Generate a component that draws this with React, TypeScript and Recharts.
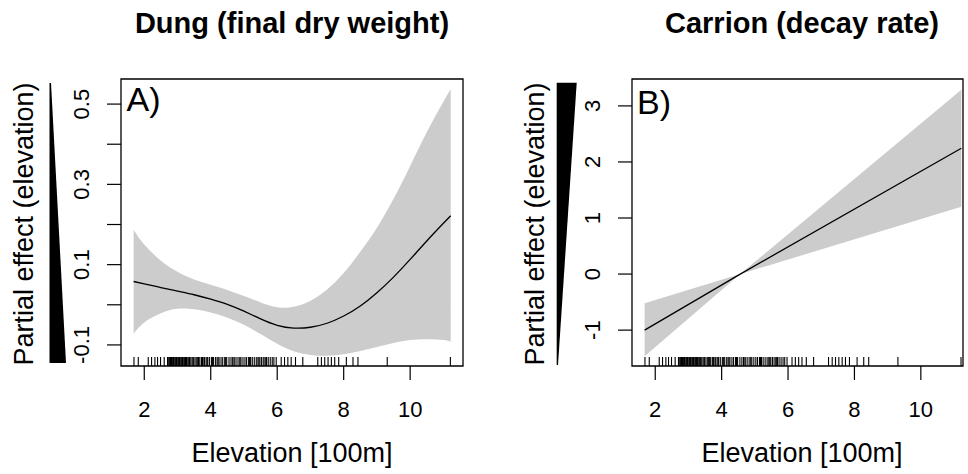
import React from 'react';
import { ComposedChart, Area, Line, Scatter, XAxis, YAxis, ReferenceArea } from 'recharts';

const FONT = '"Liberation Sans", Arial, Helvetica, sans-serif';

// Panel A: dung final dry weight, smooth partial effect with CI band
const elevA = [1.68, 2.0, 2.5, 3.0, 3.5, 4.0, 4.5, 5.0, 5.5, 6.0, 6.5, 7.0, 7.5, 8.0, 8.5, 9.0, 9.5, 10.0, 10.5, 11.0, 11.22];
const fitA = [0.058, 0.052, 0.043, 0.034, 0.025, 0.014, 0.001, -0.016, -0.035, -0.051, -0.058, -0.056, -0.046, -0.028, -0.003, 0.03, 0.069, 0.113, 0.159, 0.203, 0.222];
const lowerA = [-0.072, -0.044, -0.021, -0.01, -0.011, -0.019, -0.032, -0.05, -0.073, -0.097, -0.116, -0.125, -0.127, -0.123, -0.115, -0.105, -0.095, -0.088, -0.086, -0.088, -0.092];
const upperA = [0.187, 0.15, 0.11, 0.082, 0.063, 0.05, 0.037, 0.022, 0.006, -0.006, -0.005, 0.01, 0.038, 0.079, 0.132, 0.192, 0.264, 0.346, 0.43, 0.506, 0.537];

// Panel B: carrion decay rate, linear partial effect
const elevB = [1.68, 4.56, 11.22];
const fitB = [-1.0, 0.0, 2.245];
const lowerB = [-1.465, 0.0, 1.2];
const upperB = [-0.52, 0.0, 3.29];

// rug of sampled elevations
const rugElev = [
  1.69, 1.82, 2.12, 2.22, 2.32, 2.4, 2.49, 2.6, 2.7, 2.72, 2.75, 2.77, 2.79, 2.82, 2.84, 2.86, 2.88, 2.9, 2.93,
  2.95, 2.97, 2.99, 3.02, 3.04, 3.06, 3.08, 3.11, 3.13, 3.15, 3.17, 3.2, 3.22, 3.24, 3.27, 3.31, 3.34, 3.36,
  3.4, 3.44, 3.47, 3.49, 3.53, 3.58, 3.61, 3.63, 3.67, 3.72, 3.75, 3.77, 3.81, 3.86, 3.89, 3.91, 3.96, 4.02,
  4.05, 4.08, 4.14, 4.19, 4.22, 4.25, 4.31, 4.36, 4.42, 4.45, 4.48, 4.55, 4.61, 4.66, 4.7, 4.73, 4.79, 4.85,
  4.88, 4.91, 4.97, 5.03, 5.08, 5.14, 5.17, 5.2, 5.25, 5.31, 5.37, 5.42, 5.45, 5.48, 5.53, 5.58, 5.63, 5.66,
  5.68, 5.73, 5.79, 5.85, 5.9, 5.97, 6.12, 6.22, 6.32, 6.42, 6.55, 6.77, 7.22, 7.33, 7.43, 7.53, 7.63, 7.73,
  7.85, 8.08, 8.28, 8.43, 9.31, 11.21,
];

const xTicks = [2, 4, 6, 8, 10];
const yTicksA = [-0.1, 0, 0.1, 0.2, 0.3, 0.4, 0.5];
const yLabelsA = [-0.1, 0.1, 0.3, 0.5];
const yTicksB = [-1, 0, 1, 2, 3];
const yLabelsB = [-1, 0, 1, 2, 3];

const build = (xs: number[], fit: number[], lo: number[], hi: number[]) =>
  xs.map((x, i) => ({ x, fit: fit[i], band: [lo[i], hi[i]] }));

function RotTick(props: any) {
  const { x, y, payload, shown } = props;
  if (!shown.includes(payload.value)) return null;
  return (
    <text
      x={x}
      y={y}
      transform={`rotate(-90 ${x} ${y})`}
      textAnchor="middle"
      fontSize={22}
      fontFamily={FONT}
      fill="#000"
    >
      {String(payload.value)}
    </text>
  );
}

interface PanelProps {
  left: number;
  yAxisWidth: number;
  right: number;
  xDomain: [number, number];
  yDomain: [number, number];
  yTicks: number[];
  yLabels: number[];
  data: { x: number; fit: number; band: number[] }[];
  curve: 'natural' | 'linear';
}

function Panel({ left, yAxisWidth, right, xDomain, yDomain, yTicks, yLabels, data, curve }: PanelProps) {
  const rug = rugElev.map((x) => ({ x, y: yDomain[0] }));
  return (
    <div style={{ position: 'absolute', left, top: 0 }}>
      <ComposedChart width={484} height={474} data={data} margin={{ top: 79, right, left: 0, bottom: 0 }}>
        <XAxis
          type="number"
          dataKey="x"
          domain={xDomain}
          ticks={xTicks}
          allowDataOverflow
          height={108}
          axisLine={false}
          tickSize={14}
          tickMargin={21}
          stroke="#000"
          tickLine={{ stroke: '#000', strokeWidth: 1.2 }}
          tick={{ fontSize: 22, fontFamily: FONT, fill: '#000' }}
        />
        <YAxis
          type="number"
          domain={yDomain}
          ticks={yTicks}
          allowDataOverflow
          width={yAxisWidth}
          axisLine={false}
          tickSize={14}
          tickMargin={18}
          stroke="#000"
          tickLine={{ stroke: '#000', strokeWidth: 1.2 }}
          tick={(p: any) => <RotTick {...p} shown={yLabels} />}
        />
        <Area type={curve} dataKey="band" stroke="none" fill="#cccccc" fillOpacity={1} isAnimationActive={false} />
        <Line type={curve} dataKey="fit" stroke="#000" strokeWidth={1.3} dot={false} isAnimationActive={false} />
        <Scatter
          data={rug}
          dataKey="y"
          isAnimationActive={false}
          shape={(p: any) => (
            <line x1={p.cx} x2={p.cx} y1={p.cy} y2={p.cy - 9} stroke="#000" strokeWidth={1.1} />
          )}
        />
        <ReferenceArea
          x1={xDomain[0]}
          x2={xDomain[1]}
          y1={yDomain[0]}
          y2={yDomain[1]}
          fill="none"
          stroke="#000"
          strokeWidth={1.3}
          ifOverflow="visible"
        />
      </ComposedChart>
    </div>
  );
}

export default function App() {
  const dataA = build(elevA, fitA, lowerA, upperA);
  const dataB = build(elevB, fitB, lowerB, upperB);
  return (
    <div style={{ position: 'absolute', left: 0, top: 0, width: 968, height: 474, background: '#fff', fontFamily: FONT }}>
      <Panel
        left={0}
        yAxisWidth={121}
        right={21}
        xDomain={[1.3, 11.59]}
        yDomain={[-0.1525, 0.5625]}
        yTicks={yTicksA}
        yLabels={yLabelsA}
        data={dataA}
        curve="natural"
      />
      <Panel
        left={484}
        yAxisWidth={148}
        right={5}
        xDomain={[1.3, 11.27]}
        yDomain={[-1.64, 3.48]}
        yTicks={yTicksB}
        yLabels={yLabelsB}
        data={dataB}
        curve="linear"
      />
      <svg width={968} height={474} style={{ position: 'absolute', left: 0, top: 0, pointerEvents: 'none' }}>
        <g fontFamily={FONT} fill="#000">
          <text x={292} y={33} textAnchor="middle" fontSize={29} fontWeight="bold">Dung (final dry weight)</text>
          <text x={802} y={33} textAnchor="middle" fontSize={29} fontWeight="bold">Carrion (decay rate)</text>
          <text x={292} y={462} textAnchor="middle" fontSize={27}>Elevation [100m]</text>
          <text x={802} y={462} textAnchor="middle" fontSize={27}>Elevation [100m]</text>
          <text x={32.6} y={224} textAnchor="middle" fontSize={27} transform="rotate(-90 32.6 224)">Partial effect (elevation)</text>
          <text x={544.3} y={224} textAnchor="middle" fontSize={27} transform="rotate(-90 544.3 224)">Partial effect (elevation)</text>
          <text x={126.5} y={111} fontSize={34}>A)</text>
          <text x={637} y={114} fontSize={34}>B)</text>
        </g>
        <polygon points="49.5,83 51,83 66,363 49.5,363" fill="#000" />
        <polygon points="556.7,82.7 576.7,82.7 558,365 556.7,365" fill="#000" />
      </svg>
    </div>
  );
}
